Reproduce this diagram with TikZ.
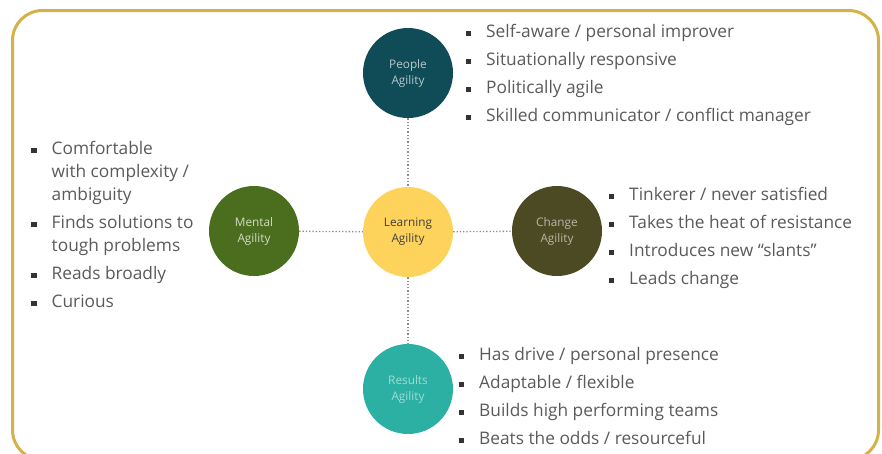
\documentclass[tikz,border=0pt]{standalone}
\usepackage{fontspec}
\setmainfont{Open Sans}
\usepackage{xcolor}
\usetikzlibrary{positioning}
\definecolor{framegold}{HTML}{D4B24A}
\definecolor{textgray}{HTML}{5A5A5A}
\definecolor{bulletgray}{HTML}{333333}
\definecolor{linkgray}{HTML}{8C8C8C}
\definecolor{peoplefill}{HTML}{0F4C57}
\definecolor{learnfill}{HTML}{FDD35C}
\definecolor{mentalfill}{HTML}{4B6E1E}
\definecolor{changefill}{HTML}{4C4A23}
\definecolor{resultfill}{HTML}{2BB0A3}
\newcommand{\sqbullet}{\textcolor{bulletgray}{\rule[1pt]{5.5pt}{5.5pt}}}

\begin{document}
\begin{tikzpicture}[x = 1pt, y = -1pt,
  agility/.style = {circle, minimum size = 90pt, inner sep = 0pt, align = center,
    font = \fontsize{11.8}{16}\selectfont},
  link/.style = {draw = linkgray, line width = 1.3pt, dash pattern = on 1.3pt off 2pt},
  items/.style = {anchor = base west, inner sep = 0pt, text = textgray,
    font = \fontsize{17.3}{28}\selectfont}]
\useasboundingbox (0,0) rectangle (882,453);
\draw[framegold, line width = 3pt, rounded corners = 30pt] (12.5,10.5) rectangle (878.5,460);

% the five circles
\node[agility, fill = learnfill, text = black!75] (learning) at (408,232) {Learning\\Agility};
\node[agility, fill = peoplefill, text = white!70!peoplefill] (people) at (408,73) {People\\Agility};
\node[agility, fill = mentalfill, text = white!75!mentalfill] (mental) at (254,231) {Mental\\Agility};
\node[agility, fill = changefill, text = white!60!changefill] (change) at (557,231) {Change\\Agility};
\node[agility, fill = resultfill, text = white!55!resultfill] (results) at (408,389) {Results\\Agility};

\draw[link] (people) -- (learning);
\draw[link] (mental) -- (learning);
\draw[link] (learning) -- (change);
\draw[link] (learning) -- (results);

% bullet lists
\node[items] (peoplelist) at (465.5,37) {\begin{tabular}[t]{@{}l@{\hspace{15pt}}l@{}}
\sqbullet & Self-aware / personal improver\\
\sqbullet & Situationally responsive\\
\sqbullet & Politically agile\\
\sqbullet & Skilled communicator / conflict manager
\end{tabular}};
\node[items] (mentallist) at (31,154) {\begin{tabular}[t]{@{}l@{\hspace{15pt}}l@{}}
\sqbullet & Comfortable\\[-5pt]
 & with complexity /\\[-5pt]
 & ambiguity\\
\sqbullet & Finds solutions to\\[-5pt]
 & tough problems\\
\sqbullet & Reads broadly\\
\sqbullet & Curious
\end{tabular}};
\node[items] (changelist) at (608.5,200) {\begin{tabular}[t]{@{}l@{\hspace{15pt}}l@{}}
\sqbullet & Tinkerer / never satisfied\\
\sqbullet & Takes the heat of resistance\\
\sqbullet & Introduces new “slants”\\
\sqbullet & Leads change
\end{tabular}};
\node[items] (resultslist) at (458.5,360) {\begin{tabular}[t]{@{}l@{\hspace{15pt}}l@{}}
\sqbullet & Has drive / personal presence\\
\sqbullet & Adaptable / flexible\\
\sqbullet & Builds high performing teams\\
\sqbullet & Beats the odds / resourceful
\end{tabular}};
\end{tikzpicture}
\end{document}
